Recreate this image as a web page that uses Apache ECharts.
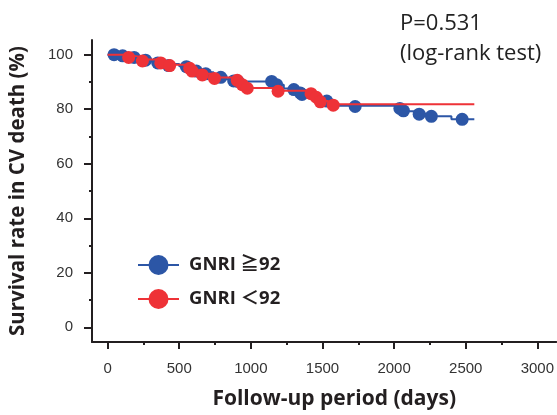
<!DOCTYPE html>
<html>
<head>
<meta charset="utf-8">
<script src="https://cdn.jsdelivr.net/npm/echarts@6/dist/echarts.min.js"></script>
<style>
  html, body { margin: 0; padding: 0; background: #fff; }
  #kmBox { width: 557px; height: 415px; }
</style>
</head>
<body>
<div id="kmBox"></div>
<script>
// survival curves (step points: day, survival %)
var highLine = [[0, 100], [80, 99.6], [150, 99.2], [230, 98.4], [300, 97.6], [380, 96.6], [500, 95.8], [590, 94.6], [650, 93.6], [740, 92.3], [830, 91], [900, 90.2], [1170, 89], [1230, 87.6], [1320, 86.4], [1380, 85.6], [1450, 84.4], [1500, 83], [1560, 81.3], [2040, 80.3], [2100, 79.3], [2170, 78.3], [2250, 77.4], [2400, 76.3], [2560, 76.3]];
var lowLine = [[0, 100], [130, 99.3], [220, 98.2], [350, 97.2], [420, 96.3], [560, 95.2], [600, 94.2], [650, 93], [730, 91.6], [880, 90.8], [930, 89.3], [960, 87.8], [1180, 86.8], [1400, 86], [1450, 84.6], [1480, 83], [1540, 81.8], [2560, 81.8]];
// censor marks
var highMarks = [[45, 100], [105, 99.6], [185, 99], [265, 98], [350, 97], [425, 96], [550, 95.6], [620, 94], [685, 93], [790, 91.7], [880, 90.4], [910, 90.2], [1145, 90.2], [1180, 89], [1300, 87.2], [1345, 86], [1357, 85.4], [1530, 83], [1728, 81], [2040, 80.3], [2065, 79.4], [2175, 78.2], [2260, 77.4], [2475, 76.3]];
var lowMarks = [[147, 99], [243, 97.7], [371, 97], [433, 96], [573, 95], [590, 94], [661, 92.6], [746, 91.3], [905, 90.6], [940, 89], [975, 87.7], [1190, 86.6], [1420, 85.7], [1457, 84.4], [1485, 82.7], [1575, 81.5]];

var groupNames = ['GNRI ≧92', 'GNRI ＜92'];
var xLabels = [0, 500, 1000, 1500, 2000, 2500, 3000];
var xMinor = [250, 750, 1250, 1750, 2250, 2750];
var yLabels = [0, 20, 40, 60, 80, 100];
var yMinor = [10, 30, 50, 70, 90];

var blue = '#2c56a6';
var red = '#ee3237';
var dark = '#231f20';

var xMin = -109, xMax = 3133;
var yMin = -5.4, yMax = 105.4;

var chart = echarts.init(document.getElementById('kmBox'));

var option = {
    animation: false,
    textStyle: { fontFamily: 'Liberation Sans' },
    grid: { left: 91, right: 0, top: 40, bottom: 69 },
    legend: {
        data: groupNames,
        orient: 'vertical',
        left: 132,
        top: 250,
        itemWidth: 41,
        itemHeight: 25,
        itemGap: 14,
        textStyle: {
            fontFamily: 'Open Sans, Noto Sans CJK JP',
            fontWeight: 'bold',
            fontSize: 18.5,
            color: dark,
            padding: [0, 0, 0, 5]
        }
    },
    graphic: [
        {
            type: 'text', left: 400, top: 9,
            style: { text: 'P=0.531\n(log-rank test)', font: '22px "Open Sans"', fill: '#222', lineHeight: 30 }
        }
    ],
    xAxis: [
        {
            type: 'value', min: xMin, max: xMax,
            name: 'Follow-up period (days)', nameLocation: 'middle', nameGap: 47,
            nameTextStyle: { fontFamily: 'Open Sans', fontWeight: 'bold', fontSize: 21, color: dark, padding: [0, 0, 0, 20] },
            splitLine: { show: false },
            axisLine: { onZero: false, lineStyle: { color: dark, width: 2 } },
            axisTick: { customValues: xLabels, length: 7, lineStyle: { color: dark, width: 2 } },
            axisLabel: { customValues: xLabels, margin: 19, fontSize: 15, color: '#333', formatter: function (v) { return String(v); } }
        },
        {
            type: 'value', min: xMin, max: xMax, position: 'bottom',
            splitLine: { show: false },
            axisLine: { show: false, onZero: false },
            axisTick: { customValues: xMinor, length: 3, lineStyle: { color: dark, width: 2 } },
            axisLabel: { show: false }
        }
    ],
    yAxis: [
        {
            type: 'value', min: yMin, max: yMax,
            name: 'Survival rate in CV death (%)', nameLocation: 'middle', nameGap: 63,
            nameTextStyle: { fontFamily: 'Open Sans', fontWeight: 'bold', fontSize: 20.5, color: dark },
            splitLine: { show: false },
            axisLine: { onZero: false, lineStyle: { color: dark, width: 2 } },
            axisTick: { customValues: yLabels, length: 8, lineStyle: { color: dark, width: 2 } },
            axisLabel: { customValues: yLabels, margin: 19, fontSize: 15, color: '#333' }
        },
        {
            type: 'value', min: yMin, max: yMax, position: 'left',
            splitLine: { show: false },
            axisLine: { show: false, onZero: false },
            axisTick: { customValues: yMinor, length: 3, lineStyle: { color: dark, width: 2 } },
            axisLabel: { show: false }
        }
    ],
    series: [
        {
            name: groupNames[0], type: 'line', step: 'end', data: highLine,
            symbol: 'circle', showSymbol: false, symbolSize: 13,
            lineStyle: { color: blue, width: 2 }, itemStyle: { color: blue }, z: 2
        },
        {
            name: groupNames[1], type: 'line', step: 'end', data: lowLine,
            symbol: 'circle', showSymbol: false, symbolSize: 13,
            lineStyle: { color: red, width: 2 }, itemStyle: { color: red }, z: 4
        },
        {
            name: groupNames[0], type: 'scatter', data: highMarks,
            symbolSize: 13, itemStyle: { color: blue, opacity: 1 }, z: 3
        },
        {
            name: groupNames[1], type: 'scatter', data: lowMarks,
            symbolSize: 13, itemStyle: { color: red, opacity: 1 }, z: 5
        }
    ]
};

chart.setOption(option);
</script>
</body>
</html>
